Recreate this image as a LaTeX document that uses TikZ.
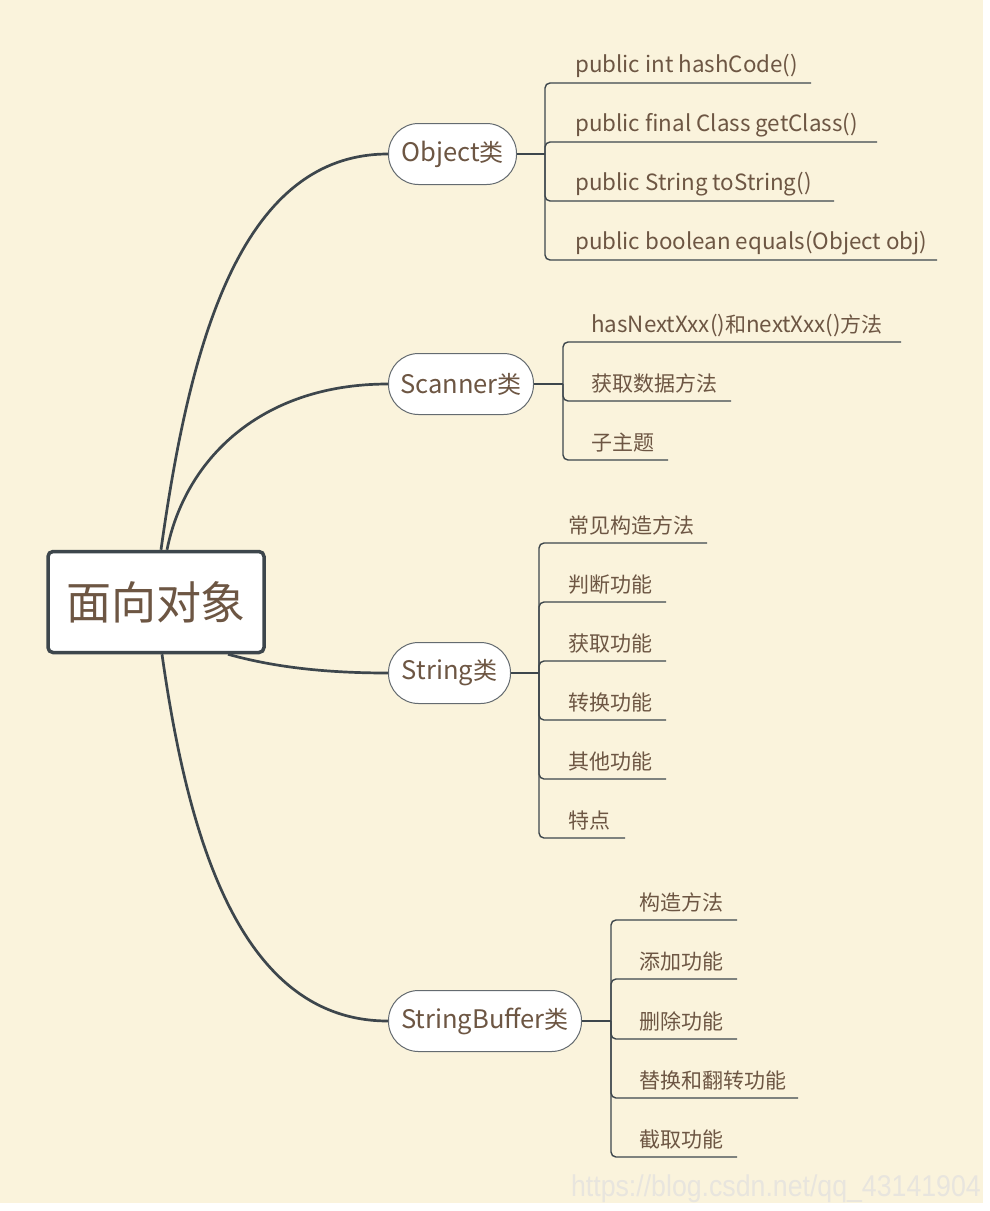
\documentclass[tikz,border=0pt]{standalone}
\usepackage{fontspec}
\setmainfont{Noto Sans CJK SC}
\newfontfamily\lat{Noto Sans CJK SC}[Scale=1.065]
\newfontfamily\wmfont{Liberation Sans}
\usetikzlibrary{calc}
\definecolor{bg}{HTML}{FAF3DC}
\definecolor{ink}{HTML}{3D464C}
\definecolor{txt}{HTML}{6D5643}
\definecolor{wm}{HTML}{E8E5DE}
\tikzset{
  rootbox/.style={draw=ink, line width=3.5pt, fill=white, rounded corners=5pt,
    minimum width=216pt, minimum height=101pt, inner sep=0pt,
    font=\fontsize{45}{50}\selectfont, text=txt},
  pill/.style={draw=ink!80, line width=1pt, fill=white, rounded corners=30pt,
    minimum height=61pt, inner sep=0pt, font=\fontsize{24}{28}\selectfont, text=txt},
  itemtext/.style={anchor=base west, inner sep=0pt, font=\fontsize{21}{25}\selectfont, text=txt},
  curveline/.style={draw=ink, line width=2.7pt},
  stub/.style={draw=ink, line width=2pt},
  branch/.style={draw=ink, line width=1.4pt, rounded corners=5pt},
}
\begin{document}
\begin{tikzpicture}[x=1pt, y=-1pt]
\fill[white] (0,0) rectangle (989,1211);
\fill[bg] (0,0) rectangle (983,1203);
\useasboundingbox (0,0) rectangle (989,1211);

% root
\node[rootbox] (root) at (156,602) {面向对象};

% main topics
\node[pill, minimum width=128pt] (obj) at (452.5,154) {{\lat Object}类};
\node[pill, minimum width=145pt] (scn) at (461,384) {{\lat Scanner}类};
\node[pill, minimum width=122pt] (str) at (449.5,673) {{\lat String}类};
\node[pill, minimum width=193pt] (sbf) at (485,1021) {{\lat StringBuffer}类};

% curves
\draw[curveline] ($(root.north)+(5,0)$) .. controls (189,350) and (238,154) .. (obj.west);
\draw[curveline] ($(root.north)+(11,0)$) .. controls (185,460) and (260,384) .. (scn.west);
\draw[curveline] ($(root.south)+(72,0)$) .. controls (270,666) and (320,673) .. (str.west);
\draw[curveline] ($(root.south)+(6,0)$) .. controls (188,838) and (240,1021) .. (sbf.west);

% Object branch
\coordinate (ob) at (545,154);
\draw[stub] (obj.east) -- (ob);
\node[itemtext] (o1) at (575,72) {\lat public int hashCode()};
\node[itemtext] (o2) at (575,131) {\lat public final Class getClass()};
\node[itemtext] (o3) at (575,190) {\lat public String toString()};
\node[itemtext] (o4) at (575,249) {\lat public boolean equals(Object obj)};
\coordinate (o1e) at (811,83);
\coordinate (o2e) at (877,142);
\coordinate (o3e) at (834,201);
\coordinate (o4e) at (937,260);
\foreach \e in {o1e,o2e,o3e,o4e} \draw[branch] (ob) |- (\e);

% Scanner branch
\coordinate (sb) at (563,384);
\draw[stub] (scn.east) -- (sb);
\node[itemtext] (s1) at (591,332) {{\lat hasNextXxx()}和{\lat nextXxx()}方法};
\node[itemtext] (s2) at (591,391) {获取数据方法};
\node[itemtext] (s3) at (591,450) {子主题};
\coordinate (s1e) at (901,342);
\coordinate (s2e) at (731,401);
\coordinate (s3e) at (668,460);
\foreach \e in {s1e,s2e,s3e} \draw[branch] (sb) |- (\e);

% String branch
\coordinate (tb) at (539,673);
\draw[stub] (str.east) -- (tb);
\node[itemtext] (t1) at (568,533) {常见构造方法};
\node[itemtext] (t2) at (568,592) {判断功能};
\node[itemtext] (t3) at (568,651) {获取功能};
\node[itemtext] (t4) at (568,710) {转换功能};
\node[itemtext] (t5) at (568,769) {其他功能};
\node[itemtext] (t6) at (568,828) {特点};
\coordinate (t1e) at (707,543);
\coordinate (t2e) at (666,602);
\coordinate (t3e) at (666,661);
\coordinate (t4e) at (666,720);
\coordinate (t5e) at (666,779);
\coordinate (t6e) at (625,838);
\foreach \e in {t1e,t2e,t3e,t4e,t5e,t6e} \draw[branch] (tb) |- (\e);

% StringBuffer branch
\coordinate (bb) at (611,1021);
\draw[stub] (sbf.east) -- (bb);
\node[itemtext] (b1) at (639,910) {构造方法};
\node[itemtext] (b2) at (639,969) {添加功能};
\node[itemtext] (b3) at (639,1029) {删除功能};
\node[itemtext] (b4) at (639,1088) {替换和翻转功能};
\node[itemtext] (b5) at (639,1147) {截取功能};
\coordinate (b1e) at (737,920);
\coordinate (b2e) at (737,979);
\coordinate (b3e) at (737,1039);
\coordinate (b4e) at (798,1098);
\coordinate (b5e) at (737,1157);
\foreach \e in {b1e,b2e,b3e,b4e,b5e} \draw[branch] (bb) |- (\e);

% watermark
\node[anchor=base east, inner sep=0pt, text=wm, font=\wmfont\fontsize{30}{34}\selectfont] (wmk) at (981,1196) {\scalebox{0.89}[1]{https://blog.csdn.net/qq\_43141904}};
\end{tikzpicture}
\end{document}
